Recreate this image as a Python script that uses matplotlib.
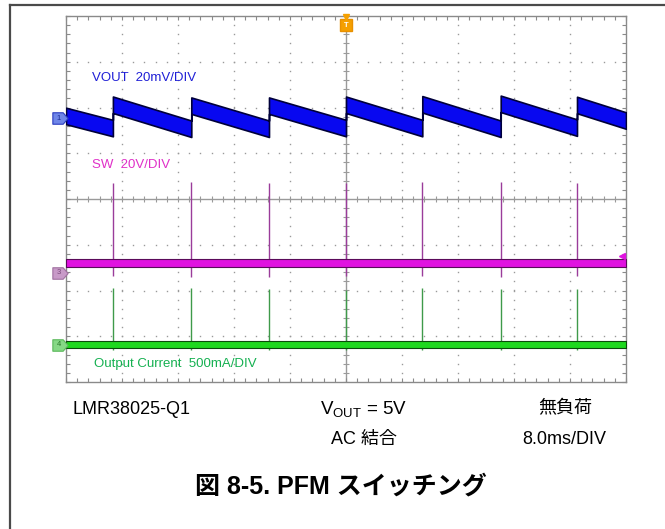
import numpy as np
import matplotlib
matplotlib.use("Agg")
import matplotlib.pyplot as plt
from matplotlib.path import Path
from matplotlib.lines import Line2D
from matplotlib.ticker import MultipleLocator
import matplotlib.transforms as mtransforms

plt.rcParams['font.family'] = ['Liberation Sans', 'Noto Sans CJK JP', 'DejaVu Sans']
plt.rcParams['mathtext.fontset'] = 'custom'
plt.rcParams['mathtext.rm'] = 'Liberation Sans'
plt.rcParams['mathtext.it'] = 'Liberation Sans:italic'

# ---- scope settings ----
time_per_div_ms = 8.0
ch1_mv_per_div = 20.0      # VOUT (AC coupled)
ch3_v_per_div = 20.0       # SW
ch4_ma_per_div = 500.0     # output current
ch1_offset_div = 1.77
ch3_offset_div = -1.607
ch4_offset_div = -3.19

# ---- measured waveforms ----
# switching bursts (ms)
t_burst_ms = [-33.3, -22.1, -11.0, 0.0, 10.9, 22.1, 33.0]

# VOUT ripple: value just before each burst and just after it (mV)
vout_before_mv = [-4.4, -4.7, -4.7, -4.4, -4.4, -4.7, -4.2]
vout_after_mv = [5.8, 5.4, 5.4, 5.8, 6.0, 6.2, 5.7]
vout_start_mv = 0.9
vout_end_mv = -1.1
vout_noise_mv = 3.6

# SW node
sw_base_v = 4.2
sw_peak_v = [39.1, 39.7, 39.1, 39.1, 39.7, 39.7, 39.1]
sw_min_v = [-1.7, -1.8, -1.8, -1.7, -1.7, -1.8, -1.7]
sw_noise_v = 1.75
sw_trigger_v = 7.2

# output current (no load)
iout_base_ma = 0.0
iout_peak_ma = [626, 626, 609, 601, 626, 609, 609]
iout_min_ma = [-55, -50, -50, -55, -50, -50, -50]
iout_noise_ma = 38.0

# ---- figure ----
W, H = 665, 529
fig = plt.figure(figsize=(W / 100, H / 100), dpi=100)
fig.patch.set_facecolor('white')

# outer frame (top and left rule)
fig.add_artist(Line2D([9.5 / W, 9.5 / W], [0, 1 - 5 / H], color='#4a4a4a', lw=1.6))
fig.add_artist(Line2D([9.5 / W, 1], [1 - 5 / H, 1 - 5 / H], color='#4a4a4a', lw=1.6))

ax = fig.add_axes([66 / W, (H - 382) / H, 560 / W, 366 / H])
xmax = 5 * time_per_div_ms
ax.set_xlim(-xmax, xmax)
ax.set_ylim(-4, 4)

grid_c = '#9a9a9a'
for s in ax.spines.values():
    s.set_color('#8a8a8a')
    s.set_linewidth(1.0)
ax.xaxis.set_major_locator(MultipleLocator(time_per_div_ms))
ax.xaxis.set_minor_locator(MultipleLocator(time_per_div_ms / 5))
ax.yaxis.set_major_locator(MultipleLocator(1))
ax.yaxis.set_minor_locator(MultipleLocator(0.2))
ax.tick_params(which='both', direction='in', top=True, right=True, bottom=True, left=True,
               labelbottom=False, labelleft=False, color='#8a8a8a')
ax.tick_params(which='major', length=3, width=0.8)
ax.tick_params(which='minor', length=3, width=0.8)

# dotted graticule
sub_y = np.arange(-4, 4.001, 0.2)
sub_x = np.arange(-xmax, xmax + 0.001, time_per_div_ms / 5)
for k in range(-4, 5):
    if k == 0:
        continue
    ax.plot(np.full_like(sub_y, k * time_per_div_ms), sub_y, ls='none', marker='s',
            ms=1.0, mfc=grid_c, mec='none', zorder=1)
for k in range(-3, 4):
    if k == 0:
        continue
    ax.plot(sub_x, np.full_like(sub_x, k), ls='none', marker='s',
            ms=1.0, mfc=grid_c, mec='none', zorder=1)

# centre cross with ticks
ax.axhline(0, color=grid_c, lw=1.0, zorder=1)
ax.axvline(0, color=grid_c, lw=1.0, zorder=1)
ax.plot(sub_x, np.zeros_like(sub_x), ls='none', marker='|', ms=4, mew=0.8, color=grid_c, zorder=1)
ax.plot(np.zeros_like(sub_y), sub_y, ls='none', marker='_', ms=5, mew=0.8, color=grid_c, zorder=1)

# ---- SW spikes and current spikes (under the traces) ----
sw_top = [ch3_offset_div + v / ch3_v_per_div for v in sw_peak_v]
sw_bot = [ch3_offset_div + v / ch3_v_per_div for v in sw_min_v]
ax.vlines(t_burst_ms, sw_bot, sw_top, color='#9a3c9a', lw=1.0, zorder=2)

i_top = [ch4_offset_div + v / ch4_ma_per_div for v in iout_peak_ma]
i_bot = [ch4_offset_div + v / ch4_ma_per_div for v in iout_min_ma]
ax.vlines(t_burst_ms, i_bot, i_top, color='#3f9a4a', lw=1.0, zorder=2)

# ---- VOUT sawtooth ----
t_v = [-xmax]
v_v = [vout_start_mv]
for t, vb, va in zip(t_burst_ms, vout_before_mv, vout_after_mv):
    t_v += [t, t]
    v_v += [vb, va]
t_v.append(xmax)
v_v.append(vout_end_mv)
t_v = np.array(t_v)
v_div = ch1_offset_div + np.array(v_v) / ch1_mv_per_div
hv = vout_noise_mv / ch1_mv_per_div
ax.fill_between(t_v, v_div - hv, v_div + hv, color='#0808f0', edgecolor='#00003a',
                lw=1.2, zorder=4)

# ---- SW trace ----
sw_y = ch3_offset_div + sw_base_v / ch3_v_per_div
hs = sw_noise_v / ch3_v_per_div
ax.fill_between([-xmax, xmax], sw_y - hs, sw_y + hs, color='#e012e0', edgecolor='#5a0a5a',
                lw=0.8, zorder=4)

# ---- current trace ----
i_y = ch4_offset_div + iout_base_ma / ch4_ma_per_div
hi = iout_noise_ma / ch4_ma_per_div
ax.fill_between([-xmax, xmax], i_y - hi, i_y + hi, color='#1ed81e', edgecolor='#0a4a0a',
                lw=0.8, zorder=4)

# ---- channel labels ----
ax.text(0.046, 0.831, 'VOUT  20mV/DIV', transform=ax.transAxes, color='#1f1fd6',
        fontsize=9.5, va='center', ha='left')
ax.text(0.046, 0.593, 'SW  20V/DIV', transform=ax.transAxes, color='#e030c8',
        fontsize=9.5, va='center', ha='left')
ax.text(0.050, 0.049, 'Output Current  500mA/DIV', transform=ax.transAxes, color='#14b050',
        fontsize=9.5, va='center', ha='left')

# ---- channel ground markers ----
pent = Path([(-1, -0.75), (0.35, -0.75), (1, 0), (0.35, 0.75), (-1, 0.75), (-1, -0.75)],
            [Path.MOVETO, Path.LINETO, Path.LINETO, Path.LINETO, Path.LINETO, Path.CLOSEPOLY])
blend = mtransforms.blended_transform_factory(ax.transAxes, ax.transData)
for y0, fc, ec, lab, tc in [(ch1_offset_div, '#6f86e8', '#2a3cc0', '1', '#1a2a90'),
                            (ch3_offset_div, '#c89ac8', '#a070a0', '3', '#7a4a7a'),
                            (ch4_offset_div, '#86d886', '#5ab85a', '4', '#2a7a2a')]:
    ax.plot([-0.0105], [y0], marker=pent, ms=11, mfc=fc, mec=ec, mew=0.8,
            transform=blend, clip_on=False, zorder=6)
    ax.text(-0.0125, y0, lab, transform=blend, fontsize=5.5, color=tc,
            ha='center', va='center', clip_on=False, zorder=7)

# trigger position marker
ax.plot([0], [3.80], marker='s', ms=8, mfc='#f5a000', mec='#e89000', clip_on=False, zorder=6)
ax.plot([0], [3.97], marker='v', ms=4, mfc='#f5a000', mec='#f5a000', clip_on=False, zorder=6)
ax.text(0, 3.80, 'T', fontsize=5.5, color='white', ha='center', va='center',
        fontweight='bold', zorder=7)

# SW trigger level marker
ax.plot([xmax - 0.6], [ch3_offset_div + sw_trigger_v / ch3_v_per_div], marker='<', ms=4,
        mfc='#e012e0', mec='#e012e0', clip_on=False, zorder=6)

# ---- captions under the screen ----
def fy(py):
    return 1 - py / H

fig.text(132 / W, fy(409), 'LMR38025-Q1', fontsize=13, ha='center', va='center')
fig.text(364 / W, fy(409), r'V$_{\mathrm{OUT}}$ = 5V', fontsize=13.5, ha='center', va='center')
fig.text(565 / W, fy(409), '無負荷', fontsize=13, ha='center', va='center')
fig.text(364 / W, fy(439), 'AC 結合', fontsize=13, ha='center', va='center')
fig.text(564 / W, fy(439), '8.0ms/DIV', fontsize=13, ha='center', va='center')
fig.text(341 / W, fy(487), '図 8-5. PFM スイッチング', fontsize=18, fontweight='bold',
         ha='center', va='center')

fig.savefig('out.png', dpi=100, facecolor='white')
